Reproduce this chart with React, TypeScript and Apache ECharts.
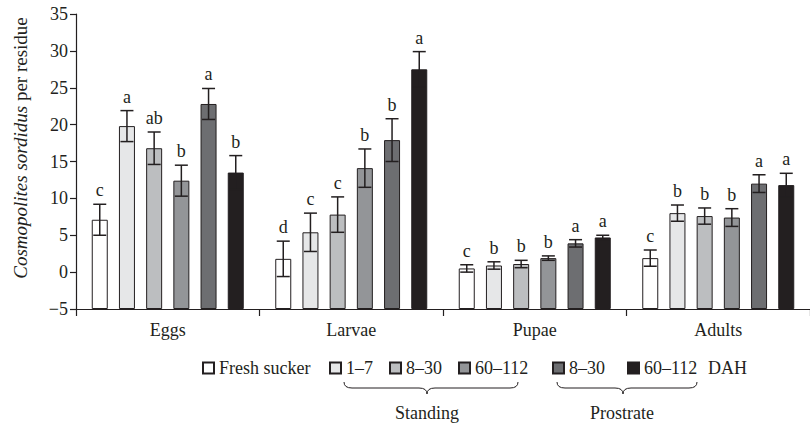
import React, { useEffect, useRef } from "react";
import * as echarts from "echarts";

const categories = ["Eggs", "Larvae", "Pupae", "Adults"];
const seriesNames = [
  "Fresh sucker",
  "Standing 1–7",
  "Standing 8–30",
  "Standing 60–112",
  "Prostrate 8–30",
  "Prostrate 60–112",
];
const legendLabels = ["Fresh sucker", "1–7", "8–30", "60–112", "8–30", "60–112"];
const colors = ["#ffffff", "#e6e7e8", "#bcbec0", "#939598", "#6d6e71", "#231f20"];

const freshSucker = [7.1, 1.8, 0.5, 1.9];
const standing1to7 = [19.8, 5.4, 0.9, 8.0];
const standing8to30 = [16.8, 7.8, 1.1, 7.6];
const standing60to112 = [12.4, 14.1, 1.9, 7.4];
const prostrate8to30 = [22.8, 17.9, 3.9, 12.0];
const prostrate60to112 = [13.5, 27.5, 4.7, 11.8];

const freshSuckerErr = [2.1, 2.4, 0.5, 1.1];
const standing1to7Err = [2.1, 2.6, 0.5, 1.1];
const standing8to30Err = [2.2, 2.4, 0.5, 1.1];
const standing60to112Err = [2.1, 2.6, 0.3, 1.2];
const prostrate8to30Err = [2.1, 2.9, 0.5, 1.2];
const prostrate60to112Err = [2.3, 2.4, 0.3, 1.6];

const freshSuckerLetters = ["c", "d", "c", "c"];
const standing1to7Letters = ["a", "c", "b", "b"];
const standing8to30Letters = ["ab", "c", "b", "b"];
const standing60to112Letters = ["b", "b", "b", "b"];
const prostrate8to30Letters = ["a", "b", "a", "a"];
const prostrate60to112Letters = ["b", "a", "a", "a"];

const yTicks = { min: -5, max: 35, interval: 5 };

const values = [freshSucker, standing1to7, standing8to30, standing60to112, prostrate8to30, prostrate60to112];
const errors = [freshSuckerErr, standing1to7Err, standing8to30Err, standing60to112Err, prostrate8to30Err, prostrate60to112Err];
const letters = [
  freshSuckerLetters,
  standing1to7Letters,
  standing8to30Letters,
  standing60to112Letters,
  prostrate8to30Letters,
  prostrate60to112Letters,
];

const FONT = "'Liberation Serif', 'Times New Roman', serif";
const INK = "#231f20";
const BAR_W = 16;
const BAR_GAP_PX = 11.2;

const braceStanding =
  "M344 382 Q344 388 352 388 L419 388 Q427 388 427 394 Q427 388 435 388 L510 388 Q518 388 518 382";
const bracePros =
  "M557 382 Q557 388 565 388 L615 388 Q623 388 623 394 Q623 388 631 388 L689 388 Q697 388 697 382";
echarts.graphic.registerShape("braceStanding", echarts.graphic.extendPath(braceStanding, {}));
echarts.graphic.registerShape("braceProstrate", echarts.graphic.extendPath(bracePros, {}));

export default function App() {
  const ref = useRef<HTMLDivElement>(null);
  useEffect(() => {
    if (!ref.current) return;
    const chart = echarts.init(ref.current, null, { renderer: "svg" });
    const barSeries = seriesNames.map((name, s) => ({
      name,
      type: "bar",
      data: values[s],
      barWidth: BAR_W,
      barGap: (BAR_GAP_PX / BAR_W) * 100 + "%",
      itemStyle: { color: colors[s], borderColor: INK, borderWidth: 1 },
      z: 2,
    }));
    const errSeries = seriesNames.map((name, s) => ({
      type: "custom",
      name: "err" + s,
      data: categories.map((c, i) => [i, values[s][i], errors[s][i]]),
      encode: { x: 0, y: 1 },
      z: 3,
      renderItem: (params: any, api: any) => {
        const cat = api.value(0);
        const v = api.value(1);
        const e = api.value(2);
        const top = api.coord([cat, v + e]);
        const bot = api.coord([cat, v - e]);
        const x = top[0] + (s - 2.5) * (BAR_W + BAR_GAP_PX);
        const st = { stroke: INK, lineWidth: 1.5 };
        return {
          type: "group",
          children: [
            { type: "line", shape: { x1: x, y1: top[1], x2: x, y2: bot[1] }, style: st },
            { type: "line", shape: { x1: x - 6.5, y1: top[1], x2: x + 6.5, y2: top[1] }, style: st },
            { type: "line", shape: { x1: x - 6.5, y1: bot[1], x2: x + 6.5, y2: bot[1] }, style: st },
            {
              type: "text",
              style: {
                text: letters[s][params.dataIndex],
                x,
                y: top[1] - 5,
                align: "center",
                verticalAlign: "bottom",
                fontSize: 18,
                fontFamily: FONT,
                fill: INK,
              },
            },
          ],
        };
      },
    }));
    const legendLefts = [202, 329, 389, 458, 552, 627];
    const legends = seriesNames.map((name, s) => ({
      data: [name],
      left: legendLefts[s],
      top: 359,
      padding: 0,
      itemWidth: 11,
      itemHeight: 11,
      icon: "rect",
      selectedMode: false,
      formatter: () => legendLabels[s],
      textStyle: { fontSize: 18, fontFamily: FONT, color: INK },
    }));
    chart.setOption({
      animation: false,
      grid: { left: 76, right: 0, top: 14, bottom: 118 },
      legend: legends,
      xAxis: {
        type: "category",
        data: categories,
        axisLine: { onZero: false, lineStyle: { color: INK, width: 1.2 } },
        axisTick: { show: true, length: 7, lineStyle: { color: INK, width: 1.2 } },
        axisLabel: { fontSize: 18, fontFamily: FONT, color: INK, margin: 12 },
      },
      yAxis: {
        type: "value",
        min: yTicks.min,
        max: yTicks.max,
        interval: yTicks.interval,
        startValue: yTicks.min,
        splitLine: { show: false },
        axisLine: { show: true, lineStyle: { color: INK, width: 1.2 } },
        axisTick: { show: true, length: 6, lineStyle: { color: INK, width: 1.2 } },
        axisLabel: {
          fontSize: 18,
          fontFamily: FONT,
          color: INK,
          margin: 8,
          formatter: (v: number) => (v < 0 ? "−" + Math.abs(v) : String(v)),
        },
      },
      graphic: [
        {
          type: "text",
          x: 20,
          y: 148,
          rotation: Math.PI / 2,
          style: {
            text: "{i|Cosmopolites sordidus} per residue",
            rich: { i: { fontStyle: "italic", fontSize: 19, fontFamily: FONT, fill: INK } },
            fontSize: 19,
            fontFamily: FONT,
            fill: INK,
            align: "center",
            verticalAlign: "middle",
          },
        },
        {
          type: "text",
          x: 708,
          y: 368,
          style: { text: "DAH", fontSize: 18, fontFamily: FONT, fill: INK, verticalAlign: "middle" },
        },
        { type: "braceStanding", x: 0, y: 0, style: { fill: "none", stroke: INK, lineWidth: 1 } },
        { type: "braceProstrate", x: 0, y: 0, style: { fill: "none", stroke: INK, lineWidth: 1 } },
        {
          type: "text",
          x: 427,
          y: 413,
          style: { text: "Standing", fontSize: 18, fontFamily: FONT, fill: INK, align: "center", verticalAlign: "middle" },
        },
        {
          type: "text",
          x: 622,
          y: 413,
          style: { text: "Prostrate", fontSize: 18, fontFamily: FONT, fill: INK, align: "center", verticalAlign: "middle" },
        },
      ],
      series: [...barSeries, ...errSeries],
    });
    return () => chart.dispose();
  }, []);
  return (
    <div
      ref={ref}
      style={{ position: "absolute", left: 0, top: 0, width: 810, height: 427, background: "#fff" }}
    />
  );
}
